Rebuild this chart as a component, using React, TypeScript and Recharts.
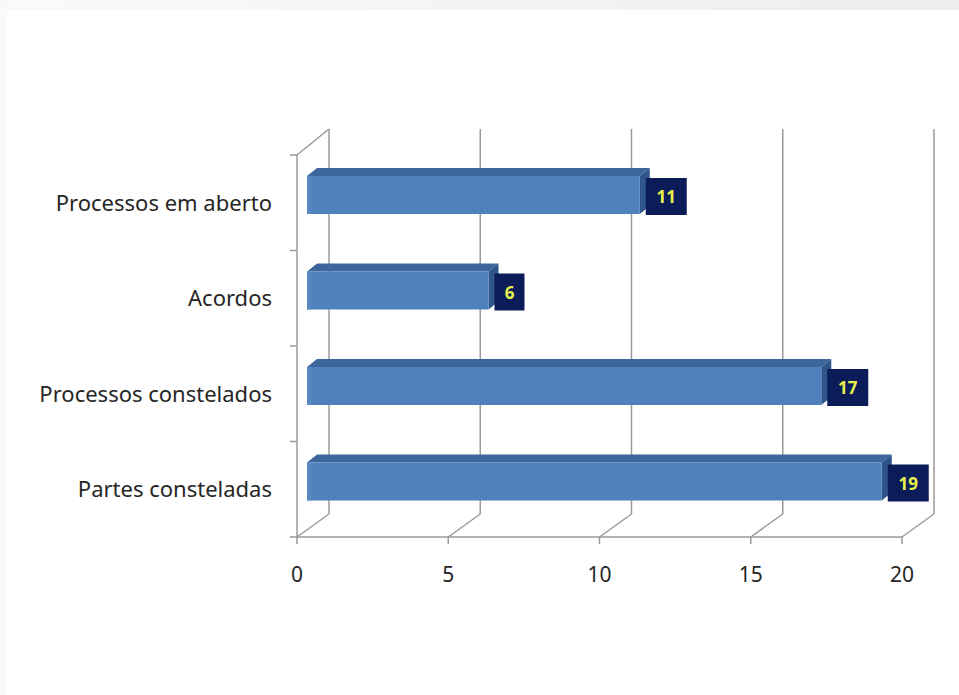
import React from 'react';
import { BarChart, Bar, XAxis, YAxis, CartesianGrid, LabelList } from 'recharts';

const categories = ['Processos em aberto', 'Acordos', 'Processos constelados', 'Partes consteladas'];
const values = [11, 6, 17, 19];
const xTicks = [0, 5, 10, 15, 20];

const data = categories.map((name, i) => ({ name, value: values[i] }));

const GRID = '#9a9a9a';
const TEXT = '#262626';
const FONT = '"Noto Sans", "Open Sans", sans-serif';
const BACK_DX = 32;
const BACK_DY_TOP = 26;
const BACK_DY_BOTTOM = 23;
const DEPTH_X = 10;
const DEPTH_Y = 8;
const WALL_TICK = 7;

const Bar3D = (props: any) => {
  const { x, y, width, height } = props;
  if (width == null || width <= 0) return null;
  const fx = x + DEPTH_X;
  const fy = y - DEPTH_Y;
  const fr = fx + width;
  const fb = fy + height;
  return (
    <g>
      <polygon
        points={`${fx},${fy} ${fr},${fy} ${fr + DEPTH_X},${fy - DEPTH_Y} ${fx + DEPTH_X},${fy - DEPTH_Y}`}
        fill="#3c669c"
      />
      <polygon
        points={`${fr},${fy} ${fr + DEPTH_X},${fy - DEPTH_Y} ${fr + DEPTH_X},${fb - DEPTH_Y} ${fr},${fb}`}
        fill="#30558a"
      />
      <rect x={fx} y={fy} width={width} height={height} fill="#4f81bd" />
      <rect x={fx} y={fy} width={4} height={height} fill="#5a8ac4" />
    </g>
  );
};

const ValueBox = (props: any) => {
  const { x, y, width, value } = props;
  const txt = String(value);
  const w = 19 + 11 * txt.length;
  const bx = x + width + 16;
  const by = y - 6;
  const bh = 37;
  return (
    <g>
      <rect x={bx} y={by} width={w} height={bh} fill="#0b1c58" />
      <text
        x={bx + w / 2}
        y={by + bh / 2}
        textAnchor="middle"
        dominantBaseline="central"
        fill="#e8f24e"
        fontSize={17}
        fontWeight="bold"
        fontFamily={FONT}
      >
        {txt}
      </text>
    </g>
  );
};

const renderVertical = (p: any) => {
  const { x1, y1, y2, index } = p;
  const bx = x1 + BACK_DX;
  const n = categories.length;
  const wallTicks = Array.from({ length: n + 1 }, (_, k) => y1 + ((y2 - y1) * k) / n);
  return (
    <g key={`vg-${index}-${x1}`}>
      <line x1={bx} y1={y1 - BACK_DY_TOP} x2={bx} y2={y2 - BACK_DY_BOTTOM} stroke={GRID} strokeWidth={1.5} />
      <line x1={x1} y1={y2} x2={bx} y2={y2 - BACK_DY_BOTTOM} stroke={GRID} strokeWidth={1.5} />
      {index === 0 ? (
        <g>
          <line x1={x1} y1={y1} x2={bx} y2={y1 - BACK_DY_TOP} stroke={GRID} strokeWidth={1.5} />
          <line x1={x1} y1={y1} x2={x1} y2={y2} stroke={GRID} strokeWidth={1.5} />
          {wallTicks.map((ty, k) => (
            <line key={k} x1={x1 - WALL_TICK} y1={ty} x2={x1} y2={ty} stroke={GRID} strokeWidth={1.5} />
          ))}
        </g>
      ) : null}
    </g>
  );
};

export default function App() {
  return (
    <div style={{ position: 'absolute', left: 0, top: 0, width: 959, height: 695, background: '#ffffff', overflow: 'hidden' }}>
      <div
        style={{
          position: 'absolute',
          left: 0,
          top: 0,
          width: 959,
          height: 10,
          background: 'linear-gradient(to right, #fafafa, #ededed)',
        }}
      />
      <div style={{ position: 'absolute', left: 0, top: 0, width: 7, height: 695, background: '#f9f9f9' }} />
      <div style={{ position: 'absolute', left: 0, top: 0 }}>
        <BarChart
          width={959}
          height={695}
          data={data}
          layout="vertical"
          margin={{ top: 155, right: 57, bottom: 98, left: 0 }}
          barSize={38}
        >
          <CartesianGrid horizontal={false} vertical={renderVertical} />
          <XAxis
            type="number"
            domain={[0, 20]}
            ticks={xTicks}
            allowDataOverflow
            height={60}
            axisLine={{ stroke: GRID, strokeWidth: 1.5 }}
            tickLine={{ stroke: GRID, strokeWidth: 1.5 }}
            tickSize={7}
            tickMargin={23}
            tick={{ fontSize: 21, fill: TEXT, fontFamily: FONT }}
          />
          <YAxis
            type="category"
            dataKey="name"
            width={297}
            axisLine={false}
            tickLine={false}
            tickSize={0}
            tickMargin={25}
            tick={{ fontSize: 22, fill: TEXT, fontFamily: FONT }}
          />
          <Bar dataKey="value" shape={<Bar3D />} isAnimationActive={false}>
            <LabelList dataKey="value" content={<ValueBox />} />
          </Bar>
        </BarChart>
      </div>
    </div>
  );
}
